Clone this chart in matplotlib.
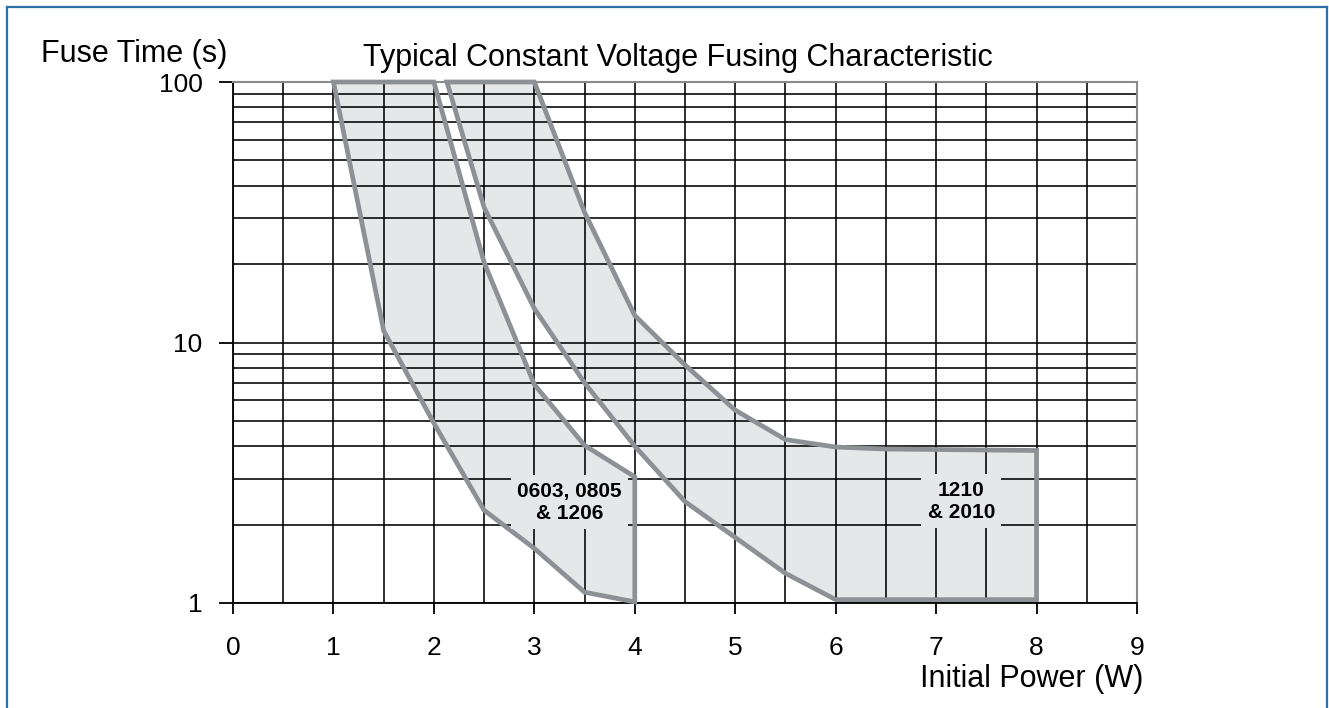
import matplotlib
matplotlib.use("Agg")
import matplotlib.pyplot as plt
from matplotlib.lines import Line2D
from matplotlib.ticker import FixedLocator, NullFormatter

plt.rcParams['font.family'] = ['Liberation Sans', 'DejaVu Sans']

# Data
title = "Typical Constant Voltage Fusing Characteristic"
ylabel = "Fuse Time (s)"
xlabel = "Initial Power (W)"

small_x = [1.0, 1.5, 2.0, 2.5, 3.0, 3.5, 4.0, 4.0, 3.5, 3.0, 2.5, 2.0]
small_y = [100, 11.1, 4.9, 2.27, 1.62, 1.1, 1.01, 3.05, 4.03, 6.9, 20.3, 100]
small_label = "0603, 0805\n& 1206"
small_label_pos = (3.35, 2.44)

large_x = [2.13, 2.5, 3.0, 3.5, 4.0, 4.5, 5.5, 6.0, 8.0, 8.0, 6.5, 6.0, 5.5, 5.0, 4.5, 4.0, 3.5, 3.0]
large_y = [100, 33, 13.5, 7.0, 4.0, 2.45, 1.3, 1.03, 1.03, 3.85, 3.9, 3.97, 4.24, 5.5, 8.2, 12.7, 31.6, 100]
large_label = "1210\n& 2010"
large_label_pos = (7.25, 2.46)

x_ticks = [0, 1, 2, 3, 4, 5, 6, 7, 8, 9]
x_grid = [i * 0.5 for i in range(19)]
y_ticks = [1, 10, 100]
y_grid = [1, 2, 3, 4, 5, 6, 7, 8, 9, 10, 20, 30, 40, 50, 60, 70, 80, 90, 100]

FILL = '#e6e7e9'
EDGE = '#8d9095'

fig = plt.figure(figsize=(13.29, 7.08), dpi=100)
ax = fig.add_axes([233/1329, 1-603/708, 904/1329, 521/708])
ax.set_yscale('log')
ax.set_xlim(0, 9)
ax.set_ylim(1, 100)

# grid
for gx in x_grid:
    ax.axvline(gx, color='black', lw=1.15, zorder=2)
for gy in y_grid:
    ax.axhline(gy, color='black', lw=1.15, zorder=2)

# polygons: fill under grid, edge above
for xs, ys in [(small_x, small_y), (large_x, large_y)]:
    ax.fill(xs, ys, facecolor=FILL, edgecolor='none', zorder=1)
    ax.fill(xs, ys, facecolor='none', edgecolor=EDGE, lw=3.4, zorder=3,
            joinstyle='miter', clip_on=False)

for txt, pos in [(small_label, small_label_pos), (large_label, large_label_pos)]:
    ax.text(pos[0], pos[1], txt, ha='center', va='center', fontsize=15,
            fontweight='bold', linespacing=1.2, zorder=4,
            bbox=dict(facecolor=FILL, edgecolor='none', pad=4.5))

ax.xaxis.set_major_locator(FixedLocator(x_ticks))
ax.set_xticklabels([str(v) for v in x_ticks])
ax.yaxis.set_major_locator(FixedLocator(y_ticks))
ax.set_yticklabels([str(v) for v in y_ticks])
ax.yaxis.set_minor_locator(FixedLocator([]))
ax.yaxis.set_minor_formatter(NullFormatter())
ax.tick_params(axis='x', direction='out', length=8, width=1.3, pad=16, labelsize=19)
ax.tick_params(axis='y', direction='out', length=10, width=1.3, pad=12, labelsize=19)

for s in ['left', 'bottom']:
    ax.spines[s].set_color('black')
    ax.spines[s].set_linewidth(1.3)
for s in ['top', 'right']:
    ax.spines[s].set_color('#8a8a8a')
    ax.spines[s].set_linewidth(1.5)
for s in ax.spines.values():
    s.set_zorder(2.5)

fig.text(678/1329, 1-66/708, title, ha='center', va='baseline', fontsize=22)
fig.text(41/1329, 1-62/708, ylabel, ha='left', va='baseline', fontsize=22)
fig.text(1143/1329, 1-687/708, xlabel, ha='right', va='baseline', fontsize=22)

# blue frame
blue = '#2f6fa8'
fig.add_artist(Line2D([7/1329, 7/1329], [0, 1-7/708], color=blue, lw=1.6, transform=fig.transFigure))
fig.add_artist(Line2D([7/1329, 1327/1329], [1-7/708, 1-7/708], color=blue, lw=1.6, transform=fig.transFigure))
fig.add_artist(Line2D([1327/1329, 1327/1329], [0, 1-7/708], color=blue, lw=1.6, transform=fig.transFigure))

fig.savefig('out.png', dpi=100)
